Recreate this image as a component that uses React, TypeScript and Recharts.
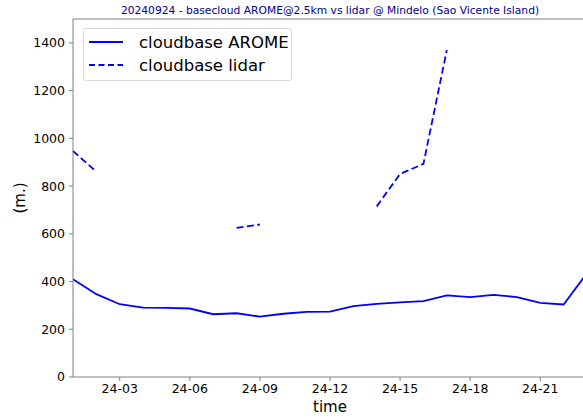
import { LineChart, Line, XAxis, YAxis, ReferenceLine, Label } from "recharts";

// hour of day 24 Sept 2024
const hours = [1, 2, 3, 4, 5, 6, 7, 8, 9, 10, 11, 12, 13, 14, 15, 16, 17, 18, 19, 20, 21, 22, 23];
const aromeCloudbase = [410, 347, 305, 291, 290, 287, 263, 267, 253, 265, 273, 274, 297, 306, 313, 318, 342, 335, 344, 335, 311, 304, 435];
const lidarCloudbase = [947, 860, null, null, null, null, null, 625, 639, null, null, null, null, 715, 851, 893, 1370, null, null, null, null, null, null];
const timeTicks = [3, 6, 9, 12, 15, 18, 21];
const heightTicks = [0, 200, 400, 600, 800, 1000, 1200, 1400];

const data = hours.map((h, i) => ({
  hour: h,
  arome: aromeCloudbase[i],
  lidar: lidarCloudbase[i],
}));

const FONT = "'DejaVu Sans', sans-serif";
const SPINE = "#808080";

function fmtTime(h: number) {
  return "24-" + String(h).padStart(2, "0");
}

export default function App() {
  return (
    <div
      style={{
        position: "absolute",
        left: 0,
        top: 0,
        width: 583,
        height: 418,
        overflow: "hidden",
        background: "#fff",
        fontFamily: FONT,
      }}
    >
      <div
        style={{
          position: "absolute",
          left: 0,
          top: 4,
          width: 660,
          textAlign: "center",
          fontSize: 10.7,
          color: "#00008b",
          lineHeight: "14px",
          whiteSpace: "nowrap",
        }}
      >
        20240924 - basecloud AROME@2.5km vs lidar @ Mindelo (Sao Vicente Island)
      </div>
      <LineChart
        width={600}
        height={418}
        data={data}
        margin={{ top: 19, right: 13, bottom: 0, left: 0 }}
        style={{ position: "absolute", left: 0, top: 0 }}
      >
        <XAxis
          dataKey="hour"
          type="number"
          domain={[1, 23]}
          ticks={timeTicks}
          tickFormatter={fmtTime}
          height={41}
          stroke={SPINE}
          tickSize={4}
          tickMargin={3}
          tick={{ fill: "#000", fontSize: 12.5, fontFamily: FONT }}
        >
          <Label value="time" position="insideBottom" offset={6} fill="#000" fontSize={15} fontFamily={FONT} />
        </XAxis>
        <YAxis
          type="number"
          domain={[0, 1500]}
          ticks={heightTicks}
          width={73}
          stroke={SPINE}
          tickSize={4}
          tickMargin={4}
          tick={{ fill: "#000", fontSize: 12.5, fontFamily: FONT }}
        >
          <Label value="(m.)" angle={-90} position="insideLeft" offset={20} fill="#000" fontSize={15} fontFamily={FONT} style={{ textAnchor: "middle" }} />
        </YAxis>
        <ReferenceLine y={1500} stroke={SPINE} />
        <ReferenceLine x={23} stroke={SPINE} />
        <Line
          dataKey="arome"
          type="linear"
          stroke="#0000ff"
          strokeWidth={1.8}
          dot={false}
          isAnimationActive={false}
        />
        <Line
          dataKey="lidar"
          type="linear"
          stroke="#0000ff"
          strokeWidth={1.8}
          strokeDasharray="7 3.5"
          dot={false}
          isAnimationActive={false}
        />
      </LineChart>
      <div
        style={{
          position: "absolute",
          left: 83,
          top: 28,
          width: 209,
          height: 53,
          border: "1px solid #d9d9d9",
          borderRadius: 3,
          background: "rgba(255,255,255,0.8)",
          boxSizing: "border-box",
          fontSize: 16.5,
          color: "#000",
          whiteSpace: "nowrap",
        }}
      >
        {[
          { name: "cloudbase AROME", dash: undefined },
          { name: "cloudbase lidar", dash: "6 3.5" },
        ].map((item, i) => (
          <div
            key={item.name}
            style={{ position: "absolute", left: 4, top: 2 + i * 23, height: 22, display: "flex", alignItems: "center" }}
          >
            <svg width={36} height={10} style={{ marginRight: 15, flex: "none" }}>
              <line x1={1} y1={5} x2={35} y2={5} stroke="#0000ff" strokeWidth={1.8} strokeDasharray={item.dash} />
            </svg>
            <span>{item.name}</span>
          </div>
        ))}
      </div>
    </div>
  );
}
